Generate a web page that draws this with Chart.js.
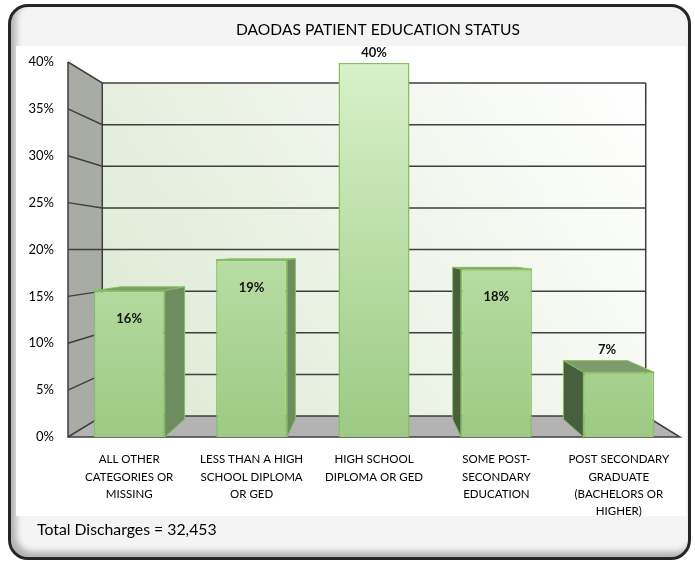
<!DOCTYPE html>
<html>
<head>
<meta charset="utf-8">
<script src="https://cdn.jsdelivr.net/npm/chart.js"></script>
<style>
body{margin:0;background:#fff;}
#wrap{position:relative;width:695px;height:564px;}
#frame{position:absolute;left:8px;top:4px;width:677px;height:550px;border:3px solid #262626;border-radius:20px;
  box-shadow:inset 5px -5px 6px rgba(0,0,0,0.28);background:#f4f4f4;overflow:hidden;}
#inner{position:absolute;left:5px;top:39px;width:670px;height:470px;background:#fff;}
canvas{position:absolute;left:0;top:0;}
</style>
</head>
<body>
<div id="wrap"><div id="frame"><div id="inner"></div></div><canvas id="eduChart" width="695" height="564"></canvas></div>
<script>
var categories = [
  ["ALL OTHER", "CATEGORIES OR", "MISSING"],
  ["LESS THAN A HIGH", "SCHOOL DIPLOMA", "OR GED"],
  ["HIGH SCHOOL", "DIPLOMA OR GED"],
  ["SOME POST-", "SECONDARY", "EDUCATION"],
  ["POST SECONDARY", "GRADUATE", "(BACHELORS OR", "HIGHER)"]
];
var shares = [15.6, 18.9, 39.9, 17.9, 6.9];
var shareLabels = ["16%", "19%", "40%", "18%", "7%"];
var yTicks = [0, 5, 10, 15, 20, 25, 30, 35, 40];
var chartTitle = "DAODAS PATIENT EDUCATION STATUS";
var footNote = "Total Discharges = 32,453";

var K_WALL = 0.888; // depth of back wall
var K_BAR = 0.905;  // depth of bar backs

function proj(a, x, y, k) {
  var cx = (a.left + a.right) / 2, cy = (a.top + a.bottom) / 2;
  return [cx + (x - cx) * k, cy + (y - cy) * k];
}
function poly(ctx, pts, fill, stroke, lw) {
  ctx.beginPath();
  ctx.moveTo(pts[0][0], pts[0][1]);
  for (var i = 1; i < pts.length; i++) ctx.lineTo(pts[i][0], pts[i][1]);
  ctx.closePath();
  if (fill) { ctx.fillStyle = fill; ctx.fill(); }
  if (stroke) { ctx.strokeStyle = stroke; ctx.lineWidth = lw || 1; ctx.stroke(); }
}

var walls = {
  id: 'walls',
  beforeDatasetsDraw: function(chart) {
    var ctx = chart.ctx, a = chart.chartArea, y = chart.scales.y;
    var L = a.left, R = a.right;
    var T = y.getPixelForValue(yTicks[yTicks.length - 1]), B = y.getPixelForValue(0);
    var bTL = proj(a, L, T, K_WALL), bTR = proj(a, R, T, K_WALL);
    var bBL = proj(a, L, B, K_WALL), bBR = proj(a, R, B, K_WALL);
    ctx.save();
    var g = ctx.createLinearGradient(bBL[0], bBL[1], bTR[0], bTR[1]);
    g.addColorStop(0, '#dce9d2');
    g.addColorStop(1, '#ffffff');
    poly(ctx, [bTL, bTR, bBR, bBL], g);
    poly(ctx, [[L, T], bTL, bBL, [L, B]], '#a8aca5');
    poly(ctx, [[L, B], bBL, bBR, [R, B]], '#b3b3b3');

    ctx.strokeStyle = '#3f3f3f';
    ctx.lineWidth = 1.5;
    yTicks.forEach(function(v) {
      var py = y.getPixelForValue(v);
      var p = proj(a, L, py, K_WALL), q = proj(a, R, py, K_WALL);
      ctx.beginPath();
      ctx.moveTo(L, py); ctx.lineTo(p[0], p[1]); ctx.lineTo(q[0], q[1]);
      ctx.stroke();
    });
    ctx.beginPath();
    ctx.moveTo(L, T); ctx.lineTo(L, B); ctx.lineTo(R, B);
    ctx.lineTo(bBR[0], bBR[1]); ctx.lineTo(bTR[0], bTR[1]);
    ctx.moveTo(bTL[0], bTL[1]); ctx.lineTo(bBL[0], bBL[1]);
    ctx.stroke();

    // sides and tops of the bars
    var cx = (a.left + a.right) / 2, cy = (a.top + a.bottom) / 2;
    chart.getDatasetMeta(0).data.forEach(function(bar) {
      var p = bar.getProps(['x', 'y', 'base', 'width'], true);
      var x1 = p.x - p.width / 2, x2 = p.x + p.width / 2, top = p.y, bot = p.base;
      if (top > cy) poly(ctx, [[x1, top], [x2, top], proj(a, x2, top, K_BAR), proj(a, x1, top, K_BAR)], '#7d9c6b', '#86bf62', 1);
      if (x2 < cx) poly(ctx, [[x2, top], [x2, bot], proj(a, x2, bot, K_BAR), proj(a, x2, top, K_BAR)], '#6e8d5e', '#86bf62', 1);
      if (x1 > cx) poly(ctx, [[x1, top], [x1, bot], proj(a, x1, bot, K_BAR), proj(a, x1, top, K_BAR)], '#475f3d', '#86bf62', 1);
    });
    ctx.restore();
  },
  afterDatasetsDraw: function(chart) {
    var ctx = chart.ctx, a = chart.chartArea;
    var maxV = Math.max.apply(null, shares);
    ctx.save();
    ctx.font = 'bold 13px Lato';
    ctx.fillStyle = '#111';
    ctx.textAlign = 'center';
    ctx.textBaseline = 'middle';
    chart.getDatasetMeta(0).data.forEach(function(bar, i) {
      var p = bar.getProps(['x', 'y', 'base', 'width'], true);
      var lx = p.x, ly;
      if (shares[i] === maxV) {
        ly = p.y - 10;
      } else if (shares[i] < 10) {
        var t = proj(a, p.x, p.y, K_BAR);
        lx = (p.x + t[0]) / 2;
        ly = t[1] - 11;
      } else {
        ly = p.y + 28;
      }
      ctx.fillText(shareLabels[i], lx, ly);
    });
    ctx.fillStyle = '#000';
    ctx.font = '15.6px Lato';
    ctx.fillText(chartTitle, 378, 30);
    ctx.font = '15.8px Lato';
    ctx.textAlign = 'left';
    ctx.fillText(footNote, 37, 530);
    ctx.restore();
  }
};

Chart.defaults.font.family = 'Lato';
Chart.defaults.color = '#000';

var ctx = document.getElementById('eduChart');
var eduChart = new Chart(ctx, {
  type: 'bar',
  data: {
    labels: categories,
    datasets: [{
      data: shares,
      backgroundColor: function(context) {
        var a = context.chart.chartArea;
        if (!a) return '#a8d38d';
        var g = context.chart.ctx.createLinearGradient(0, a.top, 0, a.bottom);
        g.addColorStop(0, '#d8f1c9');
        g.addColorStop(1, '#9cca83');
        return g;
      },
      borderColor: '#86bf62',
      borderWidth: 1.5,
      barPercentage: 0.58,
      categoryPercentage: 1
    }]
  },
  options: {
    responsive: false,
    animation: false,
    layout: { padding: { left: 20, right: 15, top: 62, bottom: 40 } },
    plugins: {
      legend: { display: false },
      tooltip: { enabled: false }
    },
    scales: {
      x: {
        grid: { display: false },
        border: { display: false },
        ticks: { font: { size: 11.5, lineHeight: 1.5 }, padding: 6, maxRotation: 0, autoSkip: false },
        afterFit: function(s) { s.height = 87; }
      },
      y: {
        min: 0,
        max: 40,
        grid: { display: false, drawTicks: false },
        border: { display: false },
        ticks: { stepSize: 5, padding: 14, font: { size: 13 }, callback: function(v) { return v + '%'; } },
        afterFit: function(s) { s.width = 48; }
      }
    }
  },
  plugins: [walls]
});
</script>
</body>
</html>
